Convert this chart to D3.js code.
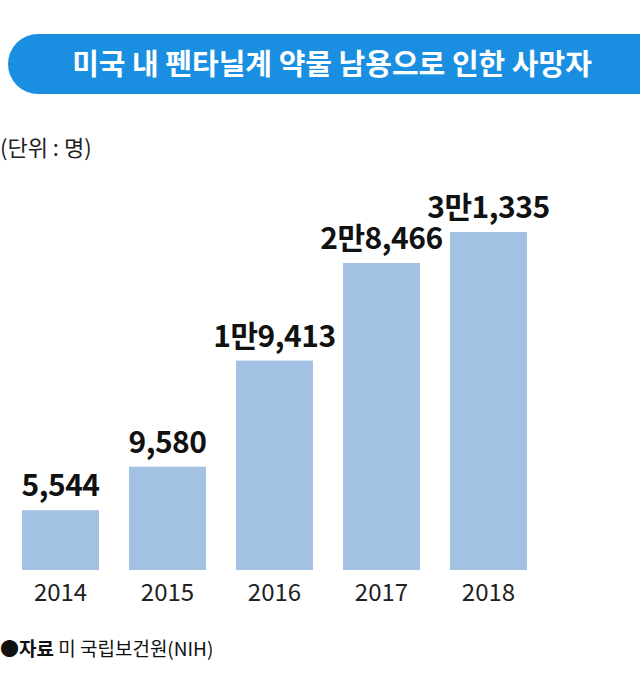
<!DOCTYPE html><html><head><meta charset="utf-8"><script src="https://cdn.jsdelivr.net/npm/d3@7"></script>
<style>body{margin:0;background:#fff}</style></head><body><svg id="c" width="640" height="688"></svg>
<script>
const years=["2014","2015","2016","2017","2018"];
const values=[5544,9580,19413,28466,31335];
const labels=["5,544","9,580","1만9,413","2만8,466","3만1,335"];
const title="미국 내 펜타닐계 약물 남용으로 인한 사망자";
const unit="(단위 : 명)";
const svg=d3.select("#c");
const F="'Noto Sans CJK KR','Noto Sans',sans-serif";
svg.append("rect").attr("x",8).attr("y",34).attr("width",660).attr("height",60).attr("rx",30).attr("fill","#1a8fe2");
svg.append("text").attr("x",332).attr("y",75).attr("text-anchor","middle").attr("fill","#fff").attr("font-family",F).attr("font-weight",700).attr("font-size",29).text(title);
svg.append("text").attr("x",0).attr("y",156).attr("font-family",F).attr("font-size",22).attr("fill","#222").text(unit);
const x=d3.scaleBand().domain(years).range([22,527]).paddingInner(0.28).paddingOuter(0);
const y=d3.scaleLinear().domain([0,31335]).range([570,232]);
svg.selectAll(".b").data(values).join("rect").attr("x",(d,i)=>x(years[i])).attr("y",d=>y(d)).attr("width",x.bandwidth()).attr("height",d=>570-y(d)).attr("fill","#a2c1e3");
svg.selectAll(".l").data(values).join("text").attr("x",(d,i)=>x(years[i])+x.bandwidth()/2).attr("y",d=>y(d)-14).attr("text-anchor","middle").attr("font-family",F).attr("font-weight",700).attr("font-size",30).attr("fill","#111").attr("letter-spacing",-0.5).text((d,i)=>labels[i]);
const ax=svg.append("g").attr("transform","translate(0,570)").call(d3.axisBottom(x).tickSize(0).tickPadding(14));
ax.select(".domain").remove();
ax.selectAll("text").attr("font-family",F).attr("font-size",24).attr("fill","#222");
const s=svg.append("text").attr("x",0).attr("y",656).attr("font-family",F).attr("font-size",19).attr("fill","#111");
s.append("tspan").attr("font-weight",700).text("●자료");
s.append("tspan").text(" 미 국립보건원(NIH)");
</script></body></html>
